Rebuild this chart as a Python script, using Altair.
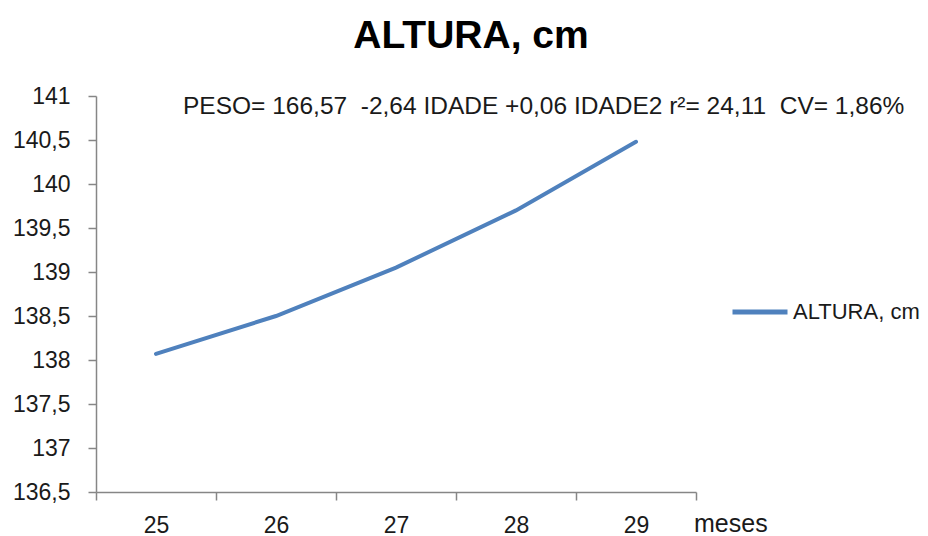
import altair as alt
import pandas as pd

meses = ["25", "26", "27", "28", "29"]
altura = [138.07, 138.50, 139.05, 139.70, 140.48]
serie = "ALTURA, cm"
y_ticks = [136.5, 137, 137.5, 138, 138.5, 139, 139.5, 140, 140.5, 141]
titulo = "ALTURA, cm"
equacao = "PESO= 166,57\u00a0\u00a0-2,64 IDADE +0,06 IDADE2 r\u00b2= 24,11\u00a0\u00a0CV= 1,86%"
eixo_x = "meses"

FONT = "Liberation Sans"
TXT = "#1a1a1a"
AX = "#868686"

df = pd.DataFrame({"mes": meses, "valor": altura, "serie": [serie] * len(meses)})

line = alt.Chart(df).mark_line(strokeWidth=4, strokeCap="round").encode(
    x=alt.X(
        "mes:O",
        bandPosition=0.5,
        scale=alt.Scale(type="band", paddingInner=0, paddingOuter=0),
        axis=alt.Axis(
            title=None, labelAngle=0, tickBand="extent", labelPadding=14,
            labelFontSize=23, labelFont=FONT, labelColor=TXT,
        ),
    ),
    y=alt.Y(
        "valor:Q",
        scale=alt.Scale(domain=[136.5, 141], nice=False, zero=False),
        axis=alt.Axis(
            title=None, values=y_ticks, labelPadding=18,
            labelExpr="replace(format(datum.value, '.1~f'), '.', ',')",
            labelFontSize=23, labelFont=FONT, labelColor=TXT,
        ),
    ),
    color=alt.Color(
        "serie:N",
        scale=alt.Scale(range=["#4F81BD"]),
        legend=alt.Legend(
            title=None, orient="none", legendX=634, legendY=186,
            symbolType="stroke", symbolSize=3025, symbolStrokeWidth=5,
            labelFontSize=22, labelFont=FONT, labelColor=TXT, labelOffset=3,
            padding=0,
        ),
    ),
)

title_df = pd.DataFrame({"t": [titulo]})
title = alt.Chart(title_df).mark_text(
    align="center", baseline="alphabetic", fontSize=39, fontWeight="bold",
    font=FONT, color="#000000",
).encode(x=alt.value(375), y=alt.value(-48), text="t:N")

eq_df = pd.DataFrame({"t": [equacao]})
eq = alt.Chart(eq_df).mark_text(
    align="left", baseline="alphabetic", fontSize=24.5, font=FONT, color=TXT,
).encode(x=alt.value(87), y=alt.value(18), text="t:N")

xl_df = pd.DataFrame({"t": [eixo_x]})
xl = alt.Chart(xl_df).mark_text(
    align="left", baseline="alphabetic", fontSize=25, font=FONT, color=TXT,
).encode(x=alt.value(598), y=alt.value(436), text="t:N")

chart = alt.layer(line, title, eq, xl).properties(
    width=600, height=396,
    autosize=alt.AutoSizeParams(type="none"),
    padding={"left": 88, "top": 88, "right": 224, "bottom": 44},
).configure_view(stroke=None).configure_axis(
    grid=False, domainColor=AX, domainWidth=1.5, tickColor=AX, tickWidth=1.5,
    tickSize=8,
)

chart.save("out.html", embed_options={"renderer": "svg", "actions": False})
